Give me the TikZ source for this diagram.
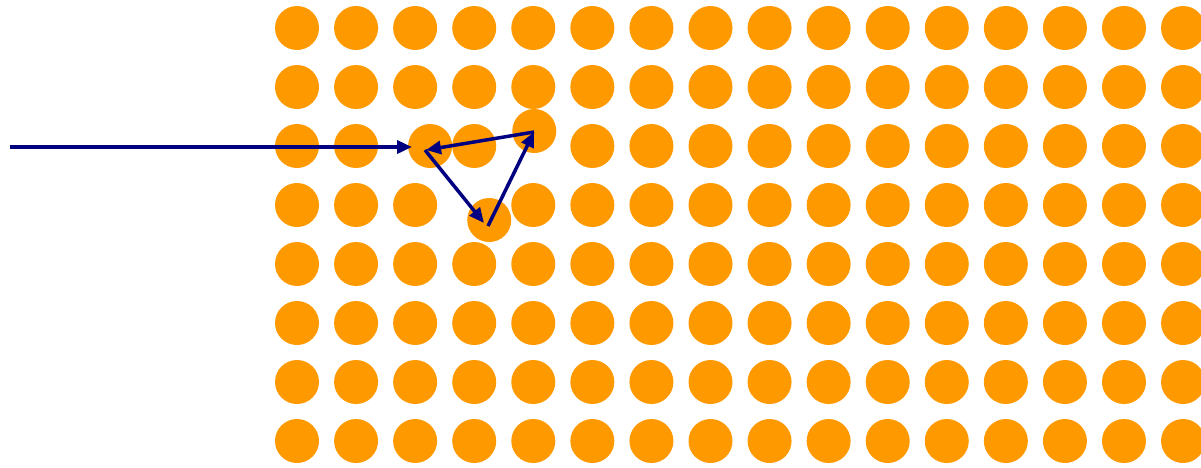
\documentclass[tikz,border=0pt]{standalone}
\usetikzlibrary{arrows.meta}
\definecolor{atomorange}{HTML}{FF9900}
\definecolor{pathnavy}{HTML}{000080}
\begin{document}
\begin{tikzpicture}[x=1pt,y=-1pt,
  atom/.style={circle,fill=atomorange,draw=none,minimum size=44pt,inner sep=0pt},
  hop/.style={draw=pathnavy,line width=3.5pt,-{Triangle[length=15pt,width=13pt]}}]
\useasboundingbox (0,0) rectangle (1201,467);
\foreach \r in {1,...,8}{
  \foreach \c in {1,...,16}{
    \pgfmathsetmacro\dx{(\r==3)*(\c==3)*15 + (\r==3)*(\c==5)*1 + (\r==4)*(\c==4)*15}
    \pgfmathsetmacro\dy{(\r==3)*(\c==5)*(-15) + (\r==4)*(\c==4)*15}
    \node[atom] (a-\r-\c) at ({297+59.07*(\c-1)+\dx},{28+59*(\r-1)+\dy}) {};
  }
}
\coordinate (s) at (10,147);
\coordinate (t) at (412,147);
\coordinate (p1) at (425,150);
\coordinate (p2) at (484,223);
\coordinate (p2b) at (488,226);
\coordinate (p3) at (534,132);
\coordinate (p1b) at (426,150);
\draw[hop] (s) -- (t);
\draw[hop] (p1) -- (p2);
\draw[hop] (p2b) -- (p3);
\draw[hop] (p3) -- (p1b);
\end{tikzpicture}
\end{document}
